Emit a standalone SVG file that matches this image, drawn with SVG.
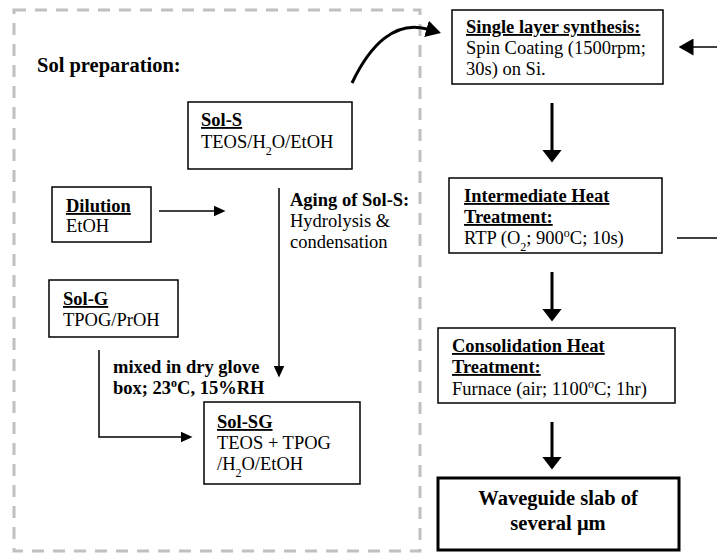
<svg xmlns="http://www.w3.org/2000/svg" width="717" height="553" viewBox="0 0 717 553">
<style>
text{font-family:"Liberation Serif","Times New Roman",serif;font-size:18.5px;fill:#000}
.b{font-weight:bold}
.u{text-decoration:underline}
.h{font-size:20.5px;font-weight:bold}
.box{fill:#fff;stroke:#000;stroke-width:1.5}
.thin{fill:none;stroke:#000;stroke-width:1.5}
.thick{fill:none;stroke:#000;stroke-width:3}
.sub{font-size:12px;baseline-shift:sub}
.sup{font-size:12px;baseline-shift:super}
</style>
<defs>
<marker id="ah" markerUnits="userSpaceOnUse" viewBox="0 0 12 11" markerWidth="12" markerHeight="11" refX="0.5" refY="5.5" orient="auto"><path d="M0,0 L12,5.5 L0,11 z" fill="#000"/></marker>
<marker id="ahm" markerUnits="userSpaceOnUse" viewBox="0 0 15 17" markerWidth="15" markerHeight="17" refX="0.5" refY="8.5" orient="auto"><path d="M0,0 L15,8.5 L0,17 z" fill="#000"/></marker>
<marker id="ahb" markerUnits="userSpaceOnUse" viewBox="0 0 13 20" markerWidth="13" markerHeight="20" refX="0.5" refY="10" orient="auto"><path d="M0,0 L13,10 L0,20 z" fill="#000"/></marker>
</defs>
<rect x="14" y="10" width="406" height="541" fill="none" stroke="#c0c0c0" stroke-width="3" stroke-dasharray="12 9"/>
<text x="37" y="72" class="h">Sol preparation:</text>

<g id="connectors">
<path class="thick" d="M352,83 C370,45 395,20 427,29" marker-end="url(#ahm)"/>
<path class="thin" d="M717,47 H693" marker-end="url(#ahm)"/>
<path class="thin" d="M677,238 H717"/>
<path class="thick" d="M552,103 V150" marker-end="url(#ahb)"/>
<path class="thick" d="M552,272 V309" marker-end="url(#ahb)"/>
<path class="thick" d="M552,422 V457" marker-end="url(#ahb)"/>
<path class="thin" d="M159,211 H214" marker-end="url(#ah)"/>
<path class="thin" d="M279,188 V366" marker-end="url(#ah)"/>
<path class="thin" d="M99,350 V437 H181" marker-end="url(#ah)"/>
</g>

<g id="sol-s">
<rect class="box" x="188" y="102" width="164" height="67"/>
<text x="201" y="126" class="b u">Sol-S</text>
<text x="201" y="148">TEOS/H<tspan class="sub">2</tspan>O/EtOH</text>
</g>

<g id="dilution">
<rect class="box" x="52" y="187" width="99" height="55"/>
<text x="66" y="212" class="b u">Dilution</text>
<text x="66" y="232">EtOH</text>
</g>

<g id="aging">
<text x="290" y="206" class="b">Aging of Sol-S:</text>
<text x="290" y="227">Hydrolysis &amp;</text>
<text x="290" y="248">condensation</text>
</g>

<g id="sol-g">
<rect class="box" x="49" y="280" width="129" height="57"/>
<text x="63" y="305" class="b u">Sol-G</text>
<text x="63" y="326">TPOG/PrOH</text>
</g>

<g id="mixed">
<text x="113" y="373" class="b">mixed in dry glove</text>
<text x="113" y="394" class="b">box; 23<tspan class="sup">o</tspan>C, 15%RH</text>
</g>

<g id="sol-sg">
<rect class="box" x="204" y="402" width="156" height="82"/>
<text x="217" y="428" class="b u">Sol-SG</text>
<text x="217" y="449">TEOS + TPOG</text>
<text x="217" y="470">/H<tspan class="sub">2</tspan>O/EtOH</text>
</g>

<g id="single-layer">
<rect class="box" x="452" y="10" width="211" height="74"/>
<text x="466" y="33" class="b u">Single layer synthesis:</text>
<text x="466" y="54">Spin Coating (1500rpm;</text>
<text x="466" y="75">30s) on Si.</text>
</g>

<g id="intermediate">
<rect class="box" x="449" y="178" width="213" height="75"/>
<text x="464" y="202" class="b u">Intermediate Heat</text>
<text x="464" y="223" class="b u">Treatment:</text>
<text x="464" y="244">RTP (O<tspan class="sub">2</tspan>;  900<tspan class="sup">o</tspan>C; 10s)</text>
</g>

<g id="consolidation">
<rect class="box" x="438" y="328" width="237" height="75"/>
<text x="452" y="352" class="b u">Consolidation Heat</text>
<text x="452" y="373" class="b u">Treatment:</text>
<text x="452" y="395">Furnace (air; 1100<tspan class="sup">o</tspan>C; 1hr)</text>
</g>

<g id="waveguide">
<rect x="438" y="478" width="241" height="72" fill="#fff" stroke="#000" stroke-width="3"/>
<text x="558" y="505" class="h" text-anchor="middle">Waveguide slab of</text>
<text x="558" y="530" class="h" text-anchor="middle">several μm</text>
</g>
</svg>
